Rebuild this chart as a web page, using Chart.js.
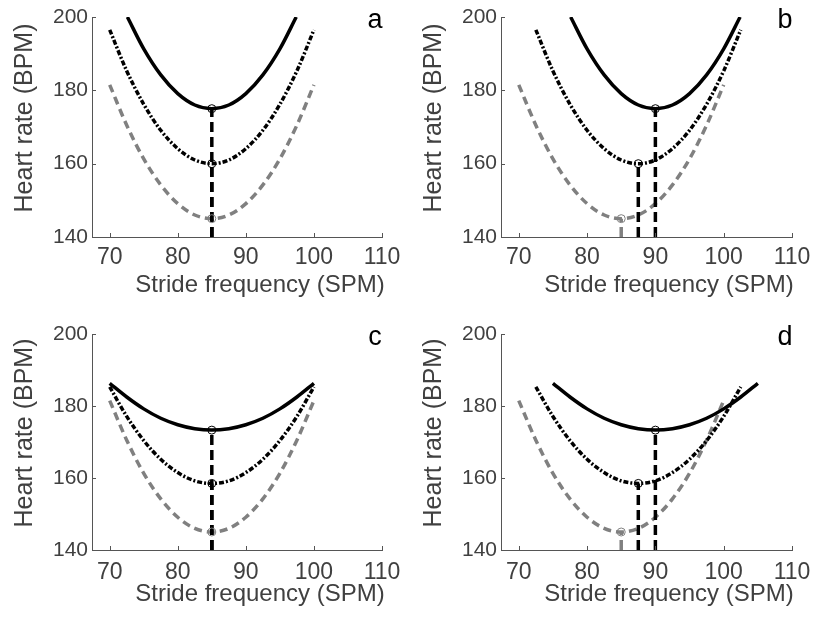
<!DOCTYPE html>
<html>
<head>
<meta charset="utf-8">
<title>Heart rate vs stride frequency</title>
<script src="https://cdn.jsdelivr.net/npm/chart.js@4/dist/chart.umd.min.js"></script>
<style>
    body { margin: 0; background: #fff; }
    #wrap { position: relative; width: 819px; height: 619px; }
    .panel { position: absolute; width: 410px; height: 310px; }
</style>
</head>
<body>
<div id="wrap">
    <div class="panel" style="left:0;top:0"><canvas id="pa" width="410" height="310"></canvas></div>
    <div class="panel" style="left:410px;top:0"><canvas id="pb" width="410" height="310"></canvas></div>
    <div class="panel" style="left:0;top:310px"><canvas id="pc" width="410" height="310"></canvas></div>
    <div class="panel" style="left:410px;top:310px"><canvas id="pd" width="410" height="310"></canvas></div>
</div>
<script>
// Axis ranges and labels
const X_TICKS = [70, 80, 90, 100, 110];
const Y_TICKS = [140, 160, 180, 200];
const X_MIN = 67.4, X_MAX = 110;
const Y_MIN = 140, Y_MAX = 200;
const X_TITLE = 'Stride frequency (SPM)';
const Y_TITLE = 'Heart rate (BPM)';

// x positions of the curve samples (SPM)
const X_70_100 = [70, 72.5, 75, 77.5, 80, 82.5, 85, 87.5, 90, 92.5, 95, 97.5, 100];
const X_72_102 = [72.5, 75, 77.5, 80, 82.5, 85, 87.5, 90, 92.5, 95, 97.5, 100, 102.5];
const X_75_105 = [75, 77.5, 80, 82.5, 85, 87.5, 90, 92.5, 95, 97.5, 100, 102.5, 105];
const X_SOLID_A = [72.6, 75, 77.5, 80, 82.5, 85, 87.5, 90, 92.5, 95, 97.4];
const X_SOLID_B = [77.6, 80, 82.5, 85, 87.5, 90, 92.5, 95, 97.5, 100, 102.4];

// heart rate values (BPM)
const GRAY_Y      = [181.5, 170.5, 161.3, 154.2, 149.1, 146.0, 145, 146.0, 149.1, 154.2, 161.3, 170.5, 181.5];
const SOLID_AB_Y  = [200, 191.3, 184.2, 179.1, 176.0, 175, 176.0, 179.1, 184.2, 191.3, 200];
const DASHDOT_AB_Y = [196.5, 185.3, 176.2, 169.1, 164.1, 161.0, 160, 161.0, 164.1, 169.1, 176.2, 185.3, 196.5];
const SOLID_CD_Y  = [186.3, 182.5, 179.2, 176.6, 174.8, 173.7, 173.3, 173.7, 174.8, 176.6, 179.2, 182.5, 186.3];
const DASHDOT_CD_Y = [185.3, 177.1, 170.4, 165.2, 161.5, 159.2, 158.5, 159.2, 161.5, 165.2, 170.4, 177.1, 185.3];

// optimum markers: [solid, dash-dot, gray]
const OPT_X_A = [85, 85, 85],   OPT_Y_A = [175, 160, 145];
const OPT_X_B = [90, 87.5, 85], OPT_Y_B = [175, 160, 145];
const OPT_X_C = [85, 85, 85],   OPT_Y_C = [173.3, 158.5, 145];
const OPT_X_D = [90, 87.5, 85], OPT_Y_D = [173.3, 158.5, 145];

const FONT = '"Liberation Sans", Arial, Helvetica, sans-serif';
const TEXT_COLOR = '#404040';
const AXIS_COLOR = '#555555';
const GRAY = '#808080';
const LINE_W = 3.5;

// Panel layout (pixel boxes, kept apart from the data)
const PANELS = [
    { id: 'pa', letter: 'a', solidX: X_SOLID_A, solidY: SOLID_AB_Y, ddX: X_70_100, ddY: DASHDOT_AB_Y,
      optX: OPT_X_A, optY: OPT_Y_A, yW: 92, padR: 28, padT: 17, xH: 73, tickPad: 7, titleDy: 48 },
    { id: 'pb', letter: 'b', solidX: X_SOLID_B, solidY: SOLID_AB_Y, ddX: X_72_102, ddY: DASHDOT_AB_Y,
      optX: OPT_X_B, optY: OPT_Y_B, yW: 91, padR: 28, padT: 17, xH: 73, tickPad: 7, titleDy: 48 },
    { id: 'pc', letter: 'c', solidX: X_70_100, solidY: SOLID_CD_Y, ddX: X_70_100, ddY: DASHDOT_CD_Y,
      optX: OPT_X_C, optY: OPT_Y_C, yW: 92, padR: 28, padT: 24, xH: 70, tickPad: 9, titleDy: 44 },
    { id: 'pd', letter: 'd', solidX: X_75_105, solidY: SOLID_CD_Y, ddX: X_72_102, ddY: DASHDOT_CD_Y,
      optX: OPT_X_D, optY: OPT_Y_D, yW: 91, padR: 28, padT: 24, xH: 70, tickPad: 9, titleDy: 44 }
];

/**
 * Zip x and y arrays into Chart.js points
 */
function toPoints(xs, ys) {
    return xs.map((x, i) => ({ x: x, y: ys[i] }));
}

/**
 * A smooth curve dataset
 */
function curve(xs, ys, color, dash, order) {
    return {
        data: toPoints(xs, ys),
        borderColor: color,
        borderWidth: LINE_W,
        borderDash: dash,
        pointRadius: 0,
        cubicInterpolationMode: 'monotone',
        fill: false,
        order: order
    };
}

/**
 * A vertical drop line from the x axis up to an optimum
 * (starting at the axis keeps the dashes of overlapping lines in phase)
 */
function dropLine(x, y, color, dash, order) {
    return {
        data: [{ x: x, y: Y_MIN }, { x: x, y: y }],
        borderColor: color,
        borderWidth: LINE_W,
        borderDash: dash,
        pointRadius: 0,
        tension: 0,
        fill: false,
        order: order
    };
}

// Draws inward ticks, axis titles and the panel letter
const panelDecor = {
    id: 'panelDecor',
    afterDraw(chart, args, opts) {
        const { ctx, chartArea: a, scales: { x, y } } = chart;
        ctx.save();
        ctx.strokeStyle = AXIS_COLOR;
        ctx.lineWidth = 1;
        ctx.beginPath();
        X_TICKS.forEach(v => {
            const px = Math.round(x.getPixelForValue(v)) + 0.5;
            ctx.moveTo(px, a.bottom);
            ctx.lineTo(px, a.bottom - 4);
        });
        Y_TICKS.forEach(v => {
            const py = Math.round(y.getPixelForValue(v)) + 0.5;
            ctx.moveTo(a.left, py);
            ctx.lineTo(a.left + 4, py);
        });
        ctx.stroke();

        ctx.fillStyle = TEXT_COLOR;
        ctx.textAlign = 'center';
        ctx.textBaseline = 'middle';
        ctx.font = '24px ' + FONT;
        ctx.fillText(X_TITLE, a.left + 168, a.bottom + opts.titleDy);

        ctx.save();
        ctx.translate(a.left - 67, (a.top + a.bottom) / 2 - 9);
        ctx.rotate(-Math.PI / 2);
        ctx.font = '25px ' + FONT;
        ctx.fillText(Y_TITLE, 0, 0);
        ctx.restore();

        ctx.fillStyle = '#000';
        ctx.textBaseline = 'alphabetic';
        ctx.font = '27px ' + FONT;
        ctx.fillText(opts.letter, a.right - 7, a.top + 11);
        ctx.restore();
    }
};

/**
 * Build one panel chart
 */
function buildPanel(p) {
    const ctx = document.getElementById(p.id).getContext('2d');
    const markerColors = ['#000', '#000', GRAY];

    return new Chart(ctx, {
        type: 'line',
        data: {
            datasets: [
                curve(X_70_100, GRAY_Y, GRAY, [8, 5], 6),
                curve(p.ddX, p.ddY, '#000', [5, 2, 2, 2], 5),
                curve(p.solidX, p.solidY, '#000', [], 4),
                dropLine(p.optX[2], p.optY[2], GRAY, [10, 5], 3),
                dropLine(p.optX[1], p.optY[1], '#000', [10, 5], 2),
                dropLine(p.optX[0], p.optY[0], '#000', [10, 5], 1),
                {
                    data: toPoints(p.optX, p.optY),
                    showLine: false,
                    pointRadius: 4,
                    pointBorderWidth: 1,
                    pointBorderColor: markerColors,
                    pointBackgroundColor: 'rgba(0,0,0,0)',
                    order: 0
                }
            ]
        },
        options: {
            responsive: false,
            animation: false,
            layout: { padding: { left: 0, right: p.padR, top: p.padT, bottom: 0 } },
            scales: {
                x: {
                    type: 'linear',
                    min: X_MIN,
                    max: X_MAX,
                    afterBuildTicks: s => { s.ticks = X_TICKS.map(v => ({ value: v })); },
                    afterFit: s => { s.height = p.xH; },
                    ticks: { color: TEXT_COLOR, font: { family: FONT, size: 23 }, padding: p.tickPad, maxRotation: 0 },
                    grid: { drawOnChartArea: false, drawTicks: false },
                    border: { color: AXIS_COLOR, width: 1 }
                },
                y: {
                    min: Y_MIN,
                    max: Y_MAX,
                    afterBuildTicks: s => { s.ticks = Y_TICKS.map(v => ({ value: v })); },
                    afterFit: s => { s.width = p.yW; },
                    ticks: { color: TEXT_COLOR, font: { family: FONT, size: 21 }, padding: 4 },
                    grid: { drawOnChartArea: false, drawTicks: false },
                    border: { color: AXIS_COLOR, width: 1 }
                }
            },
            plugins: {
                legend: { display: false },
                tooltip: { enabled: false },
                panelDecor: { letter: p.letter, titleDy: p.titleDy }
            }
        },
        plugins: [panelDecor]
    });
}

PANELS.forEach(buildPanel);
</script>
</body>
</html>
